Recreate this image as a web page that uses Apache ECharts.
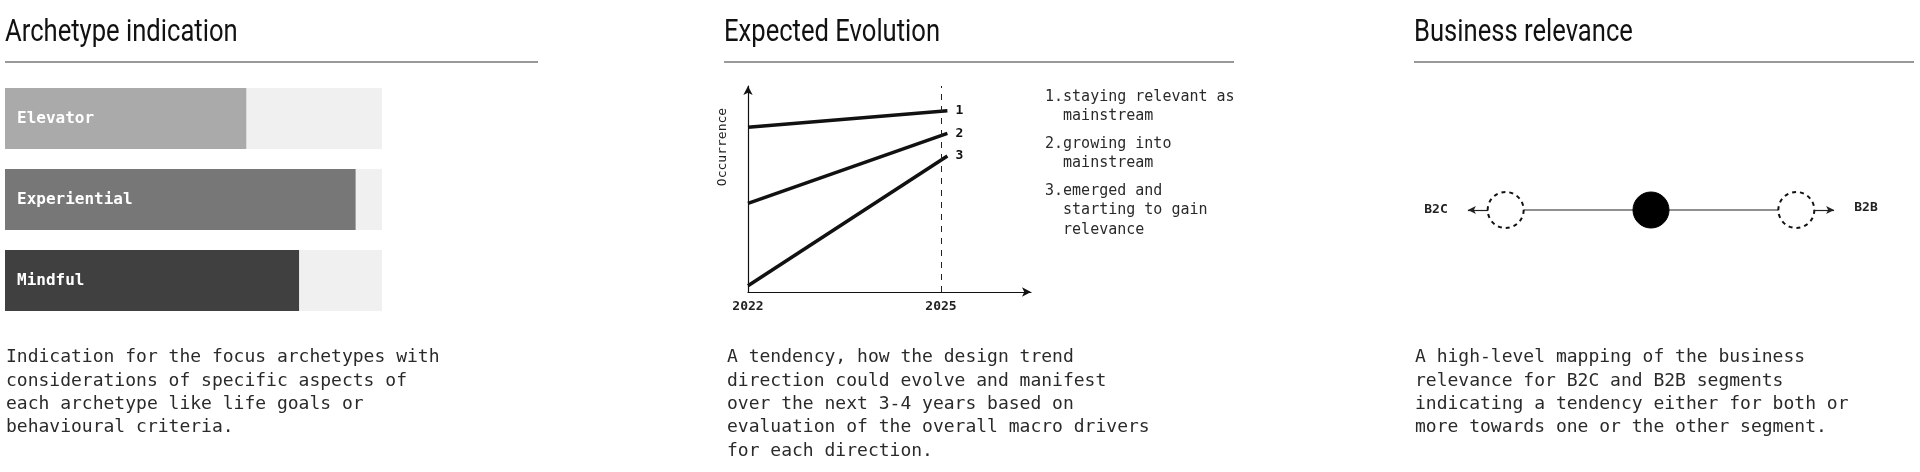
<!DOCTYPE html>
<html><head><meta charset="utf-8">
<script src="https://cdn.jsdelivr.net/npm/echarts@6/dist/echarts.min.js"></script>
<style>html,body{margin:0;padding:0;background:#fff}#c{width:1920px;height:472px}</style>
</head><body><div id="c"></div>
<script>
const archetypes = ['Elevator', 'Experiential', 'Mindful'];
const archetypeValues = [64, 93, 78];
const archetypeColors = ['#aaaaaa', '#777777', '#404040'];
const evolutionYears = [2022, 2025.1];
const evolutionNames = ['1', '2', '3'];
const evolutionStart = [80, 43, 3];
const evolutionEnd = [88, 77, 66];
const evolutionTicks = [2022, 2025];
const legendItems = ['1.staying relevant as\n  mainstream', '2.growing into\n  mainstream', '3.emerged and\n  starting to gain\n  relevance'];
const relevancePositions = [-1, 0, 1];
const relevanceChosen = [false, true, false];

const mono = 'DejaVu Sans Mono';
const cond = 'Liberation Sans Narrow, Roboto, sans-serif';
const chart = echarts.init(document.getElementById('c'));

const desc1 = 'Indication for the focus archetypes with\nconsiderations of specific aspects of\neach archetype like life goals or\nbehavioural criteria.';
const desc2 = 'A tendency, how the design trend\ndirection could evolve and manifest\nover the next 3-4 years based on\nevaluation of the overall macro drivers\nfor each direction.';
const desc3 = 'A high-level mapping of the business\nrelevance for B2C and B2B segments\nindicating a tendency either for both or\nmore towards one or the other segment.';
const descStyle = {lineHeight: 23.3, font: '18px ' + mono, fill: '#2a2a2a'};
const titleStyle = {font: '32px ' + cond, fill: '#111'};

function title(x, s) {
  return {type: 'text', x: x, y: 17, scaleX: 0.8, style: Object.assign({text: s}, titleStyle)};
}

const graphics = [
  title(5, 'Archetype indication'),
  title(724, 'Expected Evolution'),
  title(1414, 'Business relevance'),
  {type: 'line', shape: {x1: 5, y1: 62, x2: 538, y2: 62}, style: {stroke: '#777', lineWidth: 1.5}},
  {type: 'line', shape: {x1: 724, y1: 62, x2: 1234, y2: 62}, style: {stroke: '#777', lineWidth: 1.5}},
  {type: 'line', shape: {x1: 1414, y1: 62, x2: 1914, y2: 62}, style: {stroke: '#777', lineWidth: 1.5}},
  {type: 'text', left: 6, top: 346, style: Object.assign({text: desc1}, descStyle)},
  {type: 'text', left: 727, top: 346, style: Object.assign({text: desc2}, descStyle)},
  {type: 'text', left: 1415, top: 346, style: Object.assign({text: desc3}, descStyle)},
  {type: 'text', left: 1045, top: 87, style: {text: legendItems[0], font: '15px ' + mono, fill: '#2a2a2a', lineHeight: 19.5}},
  {type: 'text', left: 1045, top: 134, style: {text: legendItems[1], font: '15px ' + mono, fill: '#2a2a2a', lineHeight: 19.5}},
  {type: 'text', left: 1045, top: 181, style: {text: legendItems[2], font: '15px ' + mono, fill: '#2a2a2a', lineHeight: 19.5}},
  {type: 'text', x: 723, y: 147, rotation: Math.PI / 2, style: {text: 'Occurrence', font: '13px ' + mono, fill: '#222', align: 'center', verticalAlign: 'middle'}},
  {type: 'text', x: 1436, y: 210, style: {text: 'B2C', font: 'bold 13px ' + mono, fill: '#222', align: 'center', verticalAlign: 'middle'}},
  {type: 'text', x: 1866, y: 208, style: {text: 'B2B', font: 'bold 13px ' + mono, fill: '#222', align: 'center', verticalAlign: 'middle'}}
];

const lineSeries = evolutionNames.map((n, i) => ({
  type: 'line', name: n, xAxisIndex: 1, yAxisIndex: 1, symbol: 'none',
  data: [[evolutionYears[0], evolutionStart[i]], [evolutionYears[1], evolutionEnd[i]]],
  lineStyle: {color: '#111', width: 3.5}, itemStyle: {color: '#111'},
  endLabel: {show: true, formatter: '{a}', fontFamily: mono, fontWeight: 'bold', fontSize: 13, color: '#111', distance: 8},
  markLine: i === 0 ? {silent: true, symbol: 'none', label: {show: false}, lineStyle: {type: [6, 6], color: '#222', width: 1}, data: [{xAxis: evolutionTicks[1]}]} : undefined
}));

chart.setOption({
  animation: false,
  graphic: graphics,
  grid: [
    {left: 5, top: 78, width: 377, height: 243},
    {left: 748, top: 86, width: 283, height: 206},
    {left: 1433, top: 150, width: 436, height: 120}
  ],
  xAxis: [
    {gridIndex: 0, type: 'value', min: 0, max: 100, show: false},
    {gridIndex: 1, type: 'value', min: 2022, max: 2026.4, splitLine: {show: false},
     axisLine: {lineStyle: {color: '#111', width: 1.2}, symbol: ['none', 'arrow'], symbolSize: [7, 9]},
     axisTick: {show: false},
     axisLabel: {customValues: evolutionTicks, formatter: v => String(Math.round(v)), fontFamily: mono, fontWeight: 'bold', fontSize: 13, color: '#222', margin: 8}},
    {gridIndex: 2, type: 'value', min: -1.5, max: 1.5, show: false}
  ],
  yAxis: [
    {gridIndex: 0, type: 'category', data: archetypes, inverse: true, show: false},
    {gridIndex: 1, type: 'value', min: 0, max: 100, splitLine: {show: false}, axisTick: {show: false}, axisLabel: {show: false},
     axisLine: {show: true, lineStyle: {color: '#111', width: 1.2}, symbol: ['none', 'arrow'], symbolSize: [7, 9]}},
    {gridIndex: 2, type: 'value', min: -1, max: 1, show: false}
  ],
  series: [
    {type: 'bar', xAxisIndex: 0, yAxisIndex: 0, barWidth: 61,
     data: archetypeValues.map((v, i) => ({value: v, itemStyle: {color: archetypeColors[i]}})),
     showBackground: true, backgroundStyle: {color: '#f0f0f0'},
     label: {show: true, position: 'insideLeft', distance: 12, formatter: '{b}', fontFamily: mono, fontWeight: 'bold', fontSize: 16, color: '#fff'}},
    ...lineSeries,
    {type: 'line', xAxisIndex: 2, yAxisIndex: 2, symbol: 'none', z: 1,
     data: [[relevancePositions[0], 0], [relevancePositions[2], 0]], lineStyle: {color: '#222', width: 1.2},
     markLine: {silent: true, symbol: ['none', 'arrow'], symbolSize: [6, 8], label: {show: false}, lineStyle: {color: '#222', width: 1.2, type: 'solid'},
       data: [[{coord: [-1.12, 0]}, {coord: [-1.26, 0]}], [{coord: [1.12, 0]}, {coord: [1.26, 0]}]]}},
    {type: 'scatter', xAxisIndex: 2, yAxisIndex: 2, symbolSize: 36, z: 3,
     data: relevancePositions.map((p, i) => ({value: [p, 0], itemStyle: relevanceChosen[i] ? {color: '#000', borderColor: '#000', opacity: 1} : {color: '#fff', opacity: 1, borderColor: '#111', borderWidth: 2, borderType: [4, 4]}}))}
  ]
});
</script></body></html>
